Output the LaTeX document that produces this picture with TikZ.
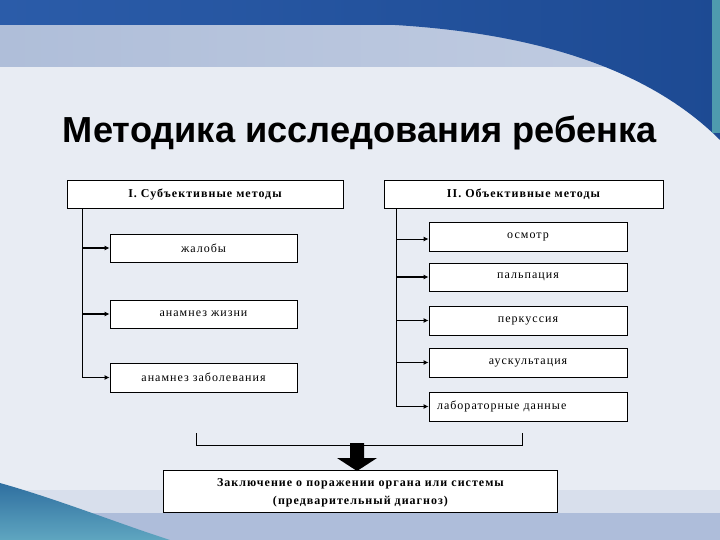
\documentclass[tikz,border=0pt]{standalone}
\usepackage{fontspec}
\setmainfont{Liberation Serif}
\newfontfamily\titlefont{Liberation Sans}
\newfontfamily\boxfont[LetterSpace=8.5]{Liberation Serif}
\usetikzlibrary{arrows.meta,calc}
\definecolor{bgc}{HTML}{E8ECF3}
\definecolor{topdark}{HTML}{2B5CA9}
\definecolor{topdark2}{HTML}{1D4A93}
\definecolor{bandlight}{HTML}{AFBED9}
\definecolor{bandlight2}{HTML}{C2CDE2}
\definecolor{botband1}{HTML}{D8DFEC}
\definecolor{botband2}{HTML}{AEBDDA}
\definecolor{swoosh1}{HTML}{2F6FA0}
\definecolor{swoosh2}{HTML}{5FA6C0}
\definecolor{stripc}{HTML}{4E9AAE}
\tikzset{
  box/.style={draw=black, line width=0.8pt, fill=white, inner sep=0pt, font=\boxfont\fontsize{12}{14}\selectfont},
  headbox/.style={box, font=\boxfont\fontsize{12}{14}\selectfont\bfseries},
  conn/.style={line width=1.3pt, -{Latex[length=5pt,width=5pt]}},
  thinconn/.style={line width=1pt, -{Latex[length=5pt,width=5pt]}},
  trunk/.style={line width=1.1pt},
}
\begin{document}
\begin{tikzpicture}[x=1pt,y=-1pt]
\useasboundingbox (0,0) rectangle (720,540);
% background
\fill[bgc] (0,0) rectangle (720,540);
\shade[left color=bandlight, right color=bandlight2] (0,25) rectangle (720,67);
\shade[left color=topdark, right color=topdark2] (0,0) -- (720,0) -- (720,140) .. controls (660,80) and (560,35) .. (395,25) -- (0,25) -- cycle;
\fill[stripc] (712,0) rectangle (720,133);
\fill[botband1] (0,490) rectangle (720,513);
\fill[botband2] (0,513) rectangle (720,540);
\shade[top color=swoosh1, bottom color=swoosh2] (0,483) .. controls (60,500) and (120,524) .. (170,540) -- (0,540) -- cycle;
% title
\node[font=\titlefont\bfseries\fontsize{36.2}{40}\selectfont, anchor=base] (title) at (360,143) {Методика исследования ребенка};
% headers
\node[headbox, minimum width=276pt, minimum height=28pt] (sub) at (205,194) {I. Субъективные методы};
\node[headbox, minimum width=279pt, minimum height=28pt] (obj) at (523.5,194) {II. Объективные методы};
% left boxes
\node[box, minimum width=187pt, minimum height=28pt] (zh) at (203.5,248) {жалобы};
\node[box, minimum width=187pt, minimum height=28pt] (anl) at (203.5,314) {анамнез жизни};
\node[box, minimum width=187pt, minimum height=29pt] (and) at (203.5,377.5) {анамнез заболевания};
% right boxes
\node[box, minimum width=198pt, minimum height=29pt] (osm) at (528,236.5) {осмотр};
\node[box, minimum width=198pt, minimum height=28pt] (pal) at (528,277) {пальпация};
\node[box, minimum width=198pt, minimum height=29pt] (per) at (528,320.5) {перкуссия};
\node[box, minimum width=198pt, minimum height=29pt] (aus) at (528,362.5) {аускультация};
\node[box, minimum width=198pt, minimum height=29pt, text width=182pt, align=left] (lab) at (528,406.5) {лабораторные данные};
% conclusion
\node[box, minimum width=394pt, minimum height=42pt] (conc) at (360.5,491) {};
\node[font=\boxfont\fontsize{12}{18.5}\selectfont\bfseries, align=center, inner sep=0pt] (conctext) at ($(conc.center)+(0,1.8)$) {Заключение о поражении органа или системы\\(предварительный диагноз)};
% left trunk
\coordinate (lt) at ($(sub.south west)+(16,0)$);
\draw[trunk] (lt) -- (lt |- and.west);
\draw[conn] (lt |- zh.west) -- (zh.west);
\draw[conn] (lt |- anl.west) -- (anl.west);
\draw[conn] (lt |- and.west) -- (and.west);
% right trunk
\coordinate (rt) at ($(obj.south west)+(13,0)$);
\draw[trunk] (rt) -- (rt |- lab.west);
\draw[thinconn] ($(rt |- osm.west)+(0,2.5)$) -- ($(osm.west)+(0,2.5)$);
\draw[conn] (rt |- pal.west) -- (pal.west);
\draw[thinconn] (rt |- per.west) -- (per.west);
\draw[conn] (rt |- aus.west) -- (aus.west);
\draw[conn] (rt |- lab.west) -- (lab.west);
% bracket
\coordinate (bl) at (196,433);
\coordinate (br) at (522,433);
\draw[line width=0.9pt] (bl) -- ++(0,12) -| (br);
% big arrow
\fill[black] (350,443) -- (364,443) -- (364,458) -- (377,458) -- (357,471) -- (337,458) -- (350,458) -- cycle;
\end{tikzpicture}
\end{document}
